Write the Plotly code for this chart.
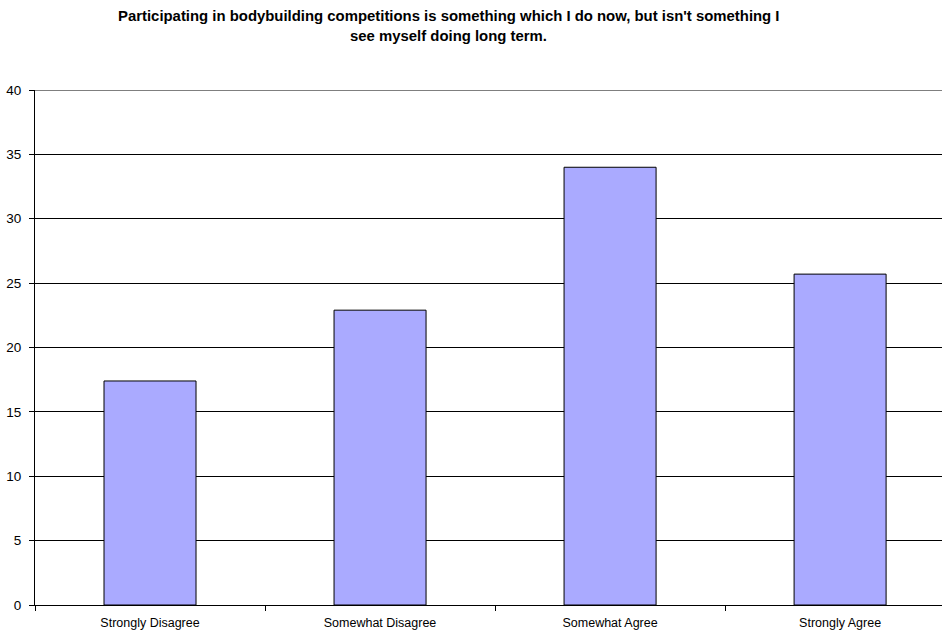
import plotly.graph_objects as go

categories = ["Strongly Disagree", "Somewhat Disagree", "Somewhat Agree", "Strongly Agree"]
percentages = [17.4, 22.9, 34.0, 25.7]
y_ticks = [0, 5, 10, 15, 20, 25, 30, 35, 40]

title_line1 = "Participating in bodybuilding competitions is something which I do now, but isn't something I"
title_line2 = "see myself doing long term."

FONT = "Arial, Liberation Sans, sans-serif"

fig = go.Figure(
    go.Bar(
        x=categories,
        y=percentages,
        width=0.4,
        marker=dict(color="#AAAAFF", line=dict(color="#000000", width=1)),
    )
)

fig.update_layout(
    width=942,
    height=632,
    margin=dict(l=35, r=0, t=90, b=27),
    paper_bgcolor="white",
    plot_bgcolor="white",
    showlegend=False,
    font=dict(family=FONT, size=12, color="#000000"),
)

fig.update_xaxes(
    type="category",
    range=[-0.5, 3.443],
    tickson="boundaries",
    ticks="outside",
    ticklen=5,
    tickcolor="#000000",
    showline=True,
    linecolor="#000000",
    linewidth=1,
    showgrid=False,
    ticklabelstandoff=6,
    tickfont=dict(family=FONT, size=12.5, color="#000000"),
)

fig.update_yaxes(
    range=[0, 40],
    tickvals=y_ticks,
    ticks="outside",
    ticklen=5,
    tickcolor="#000000",
    showline=True,
    linecolor="#000000",
    linewidth=1,
    showgrid=True,
    gridcolor="#000000",
    gridwidth=1,
    zeroline=False,
    ticklabelstandoff=5,
    tickfont=dict(family=FONT, size=13.5, color="#000000"),
)

# gridline along the top of the value range
fig.add_shape(
    type="line",
    xref="paper",
    yref="y",
    x0=0,
    x1=1,
    y0=40,
    y1=40,
    line=dict(color="#000000", width=1),
)

for text, ypix in [(title_line1, 16), (title_line2, 36)]:
    fig.add_annotation(
        text=f"<b>{text}</b>",
        xref="paper",
        yref="paper",
        x=(448 - 35) / 907,
        y=1 + (90 - ypix) / 515,
        xanchor="center",
        yanchor="middle",
        showarrow=False,
        font=dict(family=FONT, size=14.9, color="#000000"),
    )

fig.write_html("out.html")
